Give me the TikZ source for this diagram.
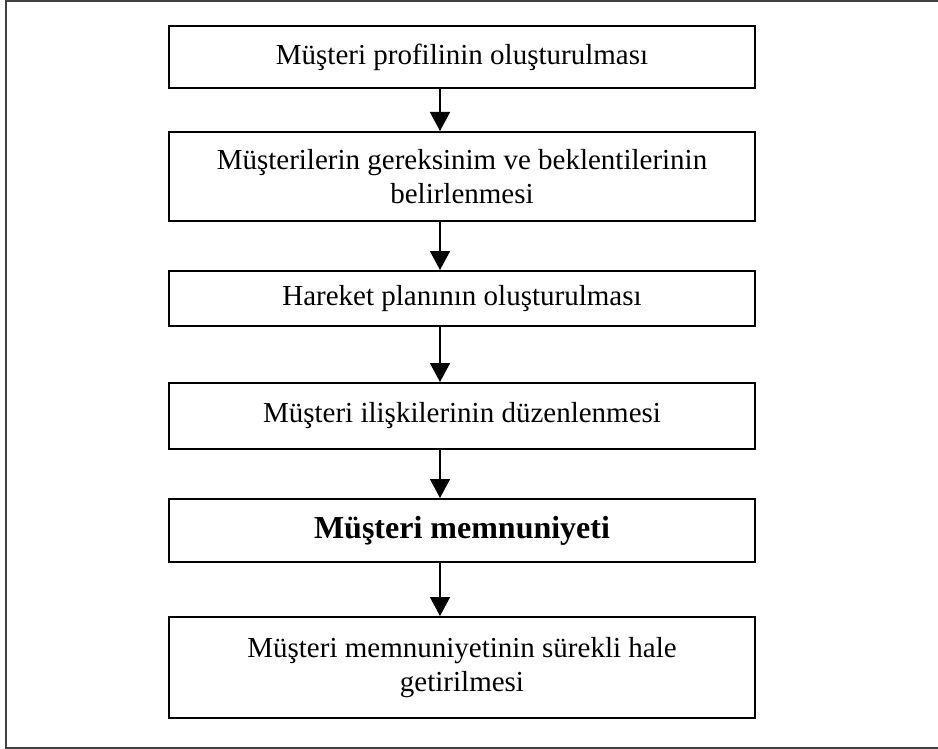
\documentclass[tikz,border=0pt]{standalone}
\usepackage{fontspec}
\setmainfont{Liberation Serif}
\usetikzlibrary{arrows.meta}
\begin{document}
\begin{tikzpicture}[x=1pt,y=-1pt,
  stepbox/.style={draw=black, line width=2pt, minimum width=586pt, inner sep=0pt,
    align=center, font=\fontsize{29}{34.5}\selectfont},
  flow/.style={line width=1.5pt, -{Triangle[width=20pt,length=19pt]}}]
\useasboundingbox (0,0) rectangle (938,749);
% outer frame (open on the right)
\draw[line width=2pt, black!75] (938,1.5) -- (5.5,1.5) -- (5.5,747.5) -- (938,747.5);

\node[stepbox, minimum height=62pt]  (b1) at (462,57)    {Müşteri profilinin oluşturulması};
\node[stepbox, minimum height=89pt]  (b2) at (462,176.5) {Müşterilerin gereksinim ve beklentilerinin\\belirlenmesi};
\node[stepbox, minimum height=55pt]  (b3) at (462,298.5) {Hareket planının oluşturulması};
\node[stepbox, minimum height=66pt]  (b4) at (462,416)   {Müşteri ilişkilerinin düzenlenmesi};
\node[stepbox, minimum height=63pt, font=\fontsize{32}{36}\selectfont\bfseries] (b5) at (462,530.5) {Müşteri memnuniyeti};
\node[stepbox, minimum height=101pt] (b6) at (462,667.5) {Müşteri memnuniyetinin sürekli hale\\getirilmesi};

\draw[flow] (b1.south -| 440,0) -- (b2.north -| 440,0);
\draw[flow] (b2.south -| 440,0) -- (b3.north -| 440,0);
\draw[flow] (b3.south -| 440,0) -- (b4.north -| 440,0);
\draw[flow] (b4.south -| 440,0) -- (b5.north -| 440,0);
\draw[flow] (b5.south -| 440,0) -- (b6.north -| 440,0);
\end{tikzpicture}
\end{document}
